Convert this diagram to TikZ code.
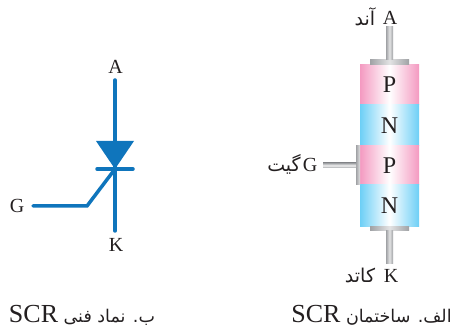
\documentclass[tikz,border=0pt]{standalone}
\usepackage{fontspec}
\setmainfont{Liberation Serif}
\newfontfamily\arabicfont[Script=Arabic]{DejaVu Sans}
\TeXXeTstate=1
\definecolor{inkc}{HTML}{231F20}
\definecolor{bluec}{HTML}{0F75BC}
\definecolor{pinkc}{HTML}{F49AC1}
\definecolor{cyanc}{HTML}{6DCFF6}
\definecolor{metalc}{HTML}{A0A2A5}
\tikzset{
  x=1pt,y=-1pt,
  layerbox/.style={inner sep=0pt,minimum width=59pt,text=inkc,font=\fontsize{24}{24}\selectfont},
  players/.style={layerbox,left color=pinkc,right color=pinkc,middle color=white},
  nlayers/.style={layerbox,left color=cyanc,right color=cyanc,middle color=white},
  metalv/.style={left color=metalc,right color=metalc,middle color=white!70!metalc},
  metalg/.style={left color=metalc,right color=white!70!metalc},
  metalh/.style={top color=metalc,bottom color=metalc,middle color=white!85!metalc},
  lbl/.style={text=inkc,inner sep=0pt,anchor=base,font=\fontsize{20}{20}\selectfont},
  fa/.style={text=inkc,inner sep=0pt,anchor=base,font=\arabicfont\fontsize{19}{19}\selectfont},
  capt/.style={text=inkc,inner sep=0pt,anchor=base,font=\arabicfont\fontsize{17.5}{17.5}\selectfont},
  sym/.style={draw=bluec,line width=3.5pt,line cap=round,line join=miter},
}
\newcommand{\scrtxt}{{\rmfamily\fontsize{26}{26}\selectfont SCR}}
\begin{document}
\begin{tikzpicture}
\useasboundingbox (0,0) rectangle (457,328);
% SCR structure
\node[players,minimum height=40pt] (p1) at (389.5,85) {P};
\node[nlayers,minimum height=41pt] (n1) at (389.5,125.5) {N};
\node[players,minimum height=39pt] (p2) at (389.5,165.5) {P};
\node[nlayers,minimum height=42pt] (n2) at (389.5,206) {N};
% metal parts
\shade[metalv] (370,60) rectangle (409,65);
\shade[metalv] (386,27) rectangle (393,60);
\shade[metalv] (370,227) rectangle (409,231);
\shade[metalv] (386,231) rectangle (393,264);
\shade[metalg] (356,146) rectangle (360,185);
\shade[metalh] (323,163) rectangle (356,168);
% labels of the structure
\node[lbl] (sa) at (390,25) {A};
\node[fa] (sat) at (365,26) {\beginR آند\endR};
\node[lbl] (sg) at (310,172) {G};
\node[fa] (sgt) at (284,172) {\beginR گیت\endR};
\node[lbl] (sk) at (391,282) {K};
\node[fa] (skt) at (360,282) {\beginR کاتد\endR};
% symbol
\coordinate (ta) at (115,80);
\coordinate (tk) at (115,231);
\coordinate (tj) at (115,169);
\coordinate (tb) at (87,206);
\coordinate (tg) at (33,206);
\draw[sym] (ta) -- (tk);
\fill[bluec] (96,141) -- (134,141) -- (115,169) -- cycle;
\draw[sym] (97,169) -- (133,169);
\draw[sym] (tj) -- (tb) -- (tg);
\node[lbl] (la) at (115.5,74) {A};
\node[lbl] (lg) at (17,213) {G};
\node[lbl] (lk) at (116,252) {K};
% captions
\node[capt] (c1) at (371.5,322)
  {\beginR الف. ساختمان \beginL\scrtxt\endL\endR};
\node[capt] (c2) at (82,322)
  {\beginR ب. نماد فنی \beginL\scrtxt\endL\endR};
\end{tikzpicture}
\end{document}
